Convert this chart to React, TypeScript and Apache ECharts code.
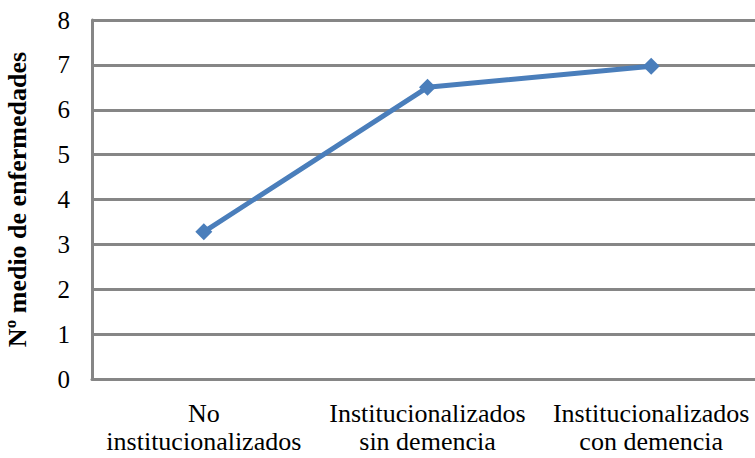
import React, { useEffect, useRef } from "react";
import * as echarts from "echarts";

const categories = ["No\ninstitucionalizados", "Institucionalizados\nsin demencia", "Institucionalizados\ncon demencia"];
const values = [3.28, 6.5, 6.97];
const yAxisName = "Nº medio de enfermedades";

export default function App() {
  const ref = useRef<HTMLDivElement>(null);
  useEffect(() => {
    const chart = echarts.init(ref.current!, null, { renderer: "svg" });
    chart.setOption({
      animation: false,
      backgroundColor: "#ffffff",
      grid: { left: 92, width: 671, top: 20, bottom: 79, containLabel: false, outerBoundsMode: "none" },
      xAxis: {
        type: "category",
        data: categories,
        boundaryGap: true,
        axisLine: { show: true, lineStyle: { color: "#868686", width: 3 } },
        axisTick: { show: false },
        axisLabel: {
          interval: 0,
          margin: 20,
          fontFamily: "Liberation Serif",
          fontSize: 26,
          color: "#000",
          lineHeight: 28,
          align: "center",
        },
        splitLine: { show: false },
      },
      yAxis: {
        type: "value",
        min: 0,
        max: 8,
        interval: 1,
        name: yAxisName,
        nameLocation: "middle",
        nameGap: 62,
        nameTextStyle: {
          fontFamily: "Liberation Serif",
          fontSize: 26,
          fontWeight: "bold",
          color: "#000",
        },
        axisLine: { show: true, lineStyle: { color: "#868686", width: 3 } },
        axisTick: { show: false },
        axisLabel: {
          margin: 22,
          fontFamily: "Liberation Serif",
          fontSize: 25,
          color: "#000",
        },
        splitLine: { show: true, lineStyle: { color: "#868686", width: 3 } },
      },
      series: [
        {
          type: "line",
          data: values,
          symbol: "diamond",
          symbolSize: 17,
          lineStyle: { color: "#4a7ebb", width: 5 },
          itemStyle: { color: "#4a7ebb" },
        },
      ],
    });
    return () => chart.dispose();
  }, []);
  return (
    <div
      ref={ref}
      style={{ position: "fixed", left: 0, top: 0, width: 755, height: 458, background: "#fff" }}
    />
  );
}
